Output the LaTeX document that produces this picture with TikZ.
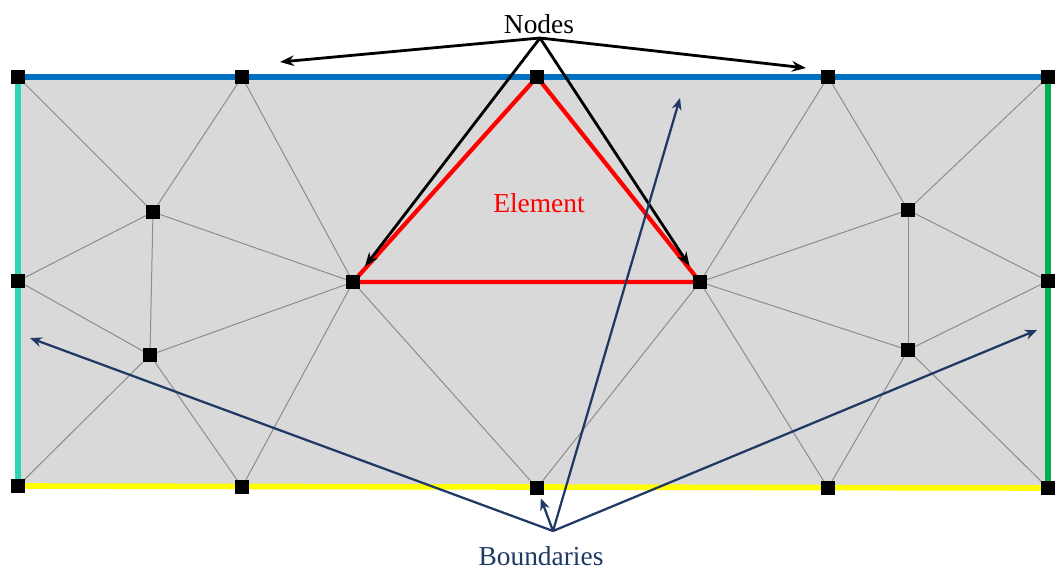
\documentclass[tikz,border=0pt]{standalone}
\usepackage{fontspec}
\setmainfont{Liberation Serif}
\usepackage{xcolor}
\usepackage{tikz}
\usetikzlibrary{arrows.meta, positioning, backgrounds}

\definecolor{meshgray}{RGB}{217,217,217}
\definecolor{topblue}{RGB}{0,112,192}
\definecolor{leftcyan}{RGB}{46,214,182}
\definecolor{rightgreen}{RGB}{0,176,80}
\definecolor{botyellow}{RGB}{255,255,0}
\definecolor{bnddark}{RGB}{31,56,100}

\begin{document}
\begin{tikzpicture}[
  x=0.025cm, y=-0.025cm,
  >={Stealth[length=10pt, width=7.5pt]},
  fenode/.style={rectangle, fill=black, inner sep=0pt, minimum size=10.5pt},
  meshline/.style={draw=gray!90, line width=0.7pt},
  bndline/.style={line width=4pt},
  elemline/.style={draw=red, line width=3pt, line join=round},
  nodearrow/.style={->, draw=black, line width=2pt},
  bndarrow/.style={-{Stealth[length=8.5pt, width=7pt]}, draw=bnddark, line width=1.6pt},
  lbl/.style={font=\fontsize{19.5}{23}\selectfont}
]
  \useasboundingbox (0,0) rectangle (1057,572);
  % mesh nodes
  \node[fenode] (TL) at (18,77) {};
  \node[fenode] (T1) at (242,77) {};
  \node[fenode] (T2) at (537,77) {};
  \node[fenode] (T3) at (828,77) {};
  \node[fenode] (TR) at (1048,77) {};
  \node[fenode] (ML) at (18,281) {};
  \node[fenode] (A) at (153,212) {};
  \node[fenode] (B) at (150,355) {};
  \node[fenode] (C) at (353,282) {};
  \node[fenode] (D) at (700,282) {};
  \node[fenode] (E) at (908,210) {};
  \node[fenode] (F) at (908,350) {};
  \node[fenode] (MR) at (1048,281) {};
  \node[fenode] (BL) at (18,486) {};
  \node[fenode] (B1) at (242,487) {};
  \node[fenode] (B2) at (537,488) {};
  \node[fenode] (B3) at (828,488) {};
  \node[fenode] (BR) at (1048,488) {};

  \begin{scope}[on background layer]
    \fill[meshgray] (TL.center) rectangle (BR.center);
    \foreach \a/\b in {TL/A, T1/A, T1/C, ML/A, A/B, A/C, ML/B, B/C, B/BL, B/B1, C/B1,
                       C/B2, D/B2, D/T3, D/E, D/F, D/B3, T3/E, E/TR, E/MR, E/F,
                       F/MR, F/B3, F/BR}
      \draw[meshline] (\a.center) -- (\b.center);
    \draw[elemline] (T2.center) -- (C.center) -- (D.center) -- cycle;
    \draw[bndline, topblue] (TL.center) -- (TR.center);
    \draw[bndline, leftcyan] (TL.center) -- (BL.center);
    \draw[bndline, rightgreen] (TR.center) -- (BR.center);
    \draw[bndline, botyellow] (BL.center) -- (BR.center);
  \end{scope}

  % labels
  \node[lbl] (nodeslbl) at (539,24) {Nodes};
  \node[lbl, text=red] (elemlbl) at (539,203) {Element};
  \node[lbl, text=bnddark] (bndlbl) at (541,556) {Boundaries};

  % arrow ends
  \coordinate (nsrc) at (540,38);
  \coordinate (ntipl) at (280,62);
  \coordinate (ntipr) at (806,68);
  \coordinate (bsrc) at (553,531);
  \coordinate (btipl) at (30,338);
  \coordinate (btipu) at (680,98);
  \coordinate (btipr) at (1037,330);

  \draw[nodearrow] (nsrc) -- (ntipl);
  \draw[nodearrow] (nsrc) -- (ntipr);
  \draw[nodearrow, shorten >=7pt] (nsrc) -- (C);
  \draw[nodearrow, shorten >=7pt] (nsrc) -- (D);

  \draw[bndarrow] (bsrc) -- (btipl);
  \draw[bndarrow] (bsrc) -- (btipu);
  \draw[bndarrow] (bsrc) -- (btipr);
  \draw[bndarrow, shorten >=2pt] (bsrc) -- (B2);
\end{tikzpicture}
\end{document}
